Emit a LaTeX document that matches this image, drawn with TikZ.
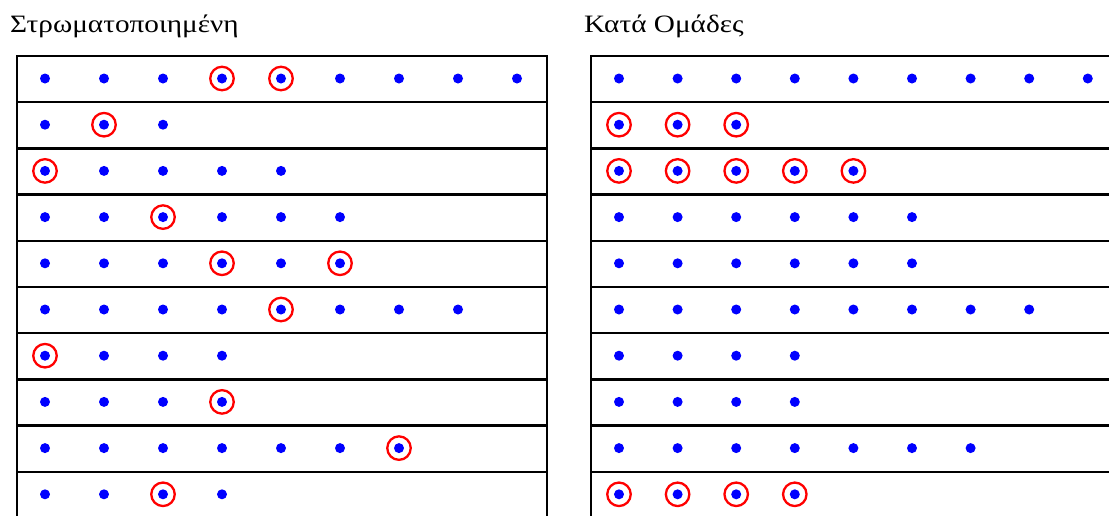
\documentclass[tikz,border=0pt]{standalone}
\usepackage{fontspec}
\setmainfont{Liberation Serif}
\newfontfamily\titlefont[FakeStretch=1.17]{Liberation Serif}
\begin{document}
\begin{tikzpicture}[x=1pt,y=-1pt,
  dotn/.style={circle,fill=blue,inner sep=0pt,minimum size=10pt},
  ring/.style={circle,draw=red,line width=2.3pt,inner sep=0pt,minimum size=23.5pt},
  rowbox/.style={draw=black,line width=2.4pt},
  title/.style={anchor=base west,inner sep=0pt,font=\titlefont\fontsize{25}{30}\selectfont}]
\useasboundingbox (0,0) rectangle (1109,515);
\clip (0,0) rectangle (1109,515);
\node[title] (tl) at (10,32) {Στρωματοποιημένη};
\node[title] (tr) at (584,32) {Κατά Ομάδες};
\foreach \n [count=\r] in {9,3,5,6,6,8,4,4,7,4} {
  \pgfmathsetmacro\yy{56+46.2*(\r-1)}
  \draw[rowbox] (17,\yy) rectangle (547,\yy+46.2);
  \draw[rowbox] (591,\yy) rectangle (1130,\yy+46.2);
  \foreach \c in {1,...,\n} {
    \node[dotn] (L-\r-\c) at ({45+59*(\c-1)},{\yy+22.5}) {};
    \node[dotn] (R-\r-\c) at ({619+58.6*(\c-1)},{\yy+22.5}) {};
  }
}
\foreach \r/\c in {1/4,1/5,2/2,3/1,4/3,5/4,5/6,6/5,7/1,8/4,9/7,10/3}
  \node[ring] (Lring-\r-\c) at (L-\r-\c) {};
\foreach \r/\c in {2/1,2/2,2/3,3/1,3/2,3/3,3/4,3/5,10/1,10/2,10/3,10/4}
  \node[ring] (Rring-\r-\c) at (R-\r-\c) {};
\end{tikzpicture}
\end{document}
